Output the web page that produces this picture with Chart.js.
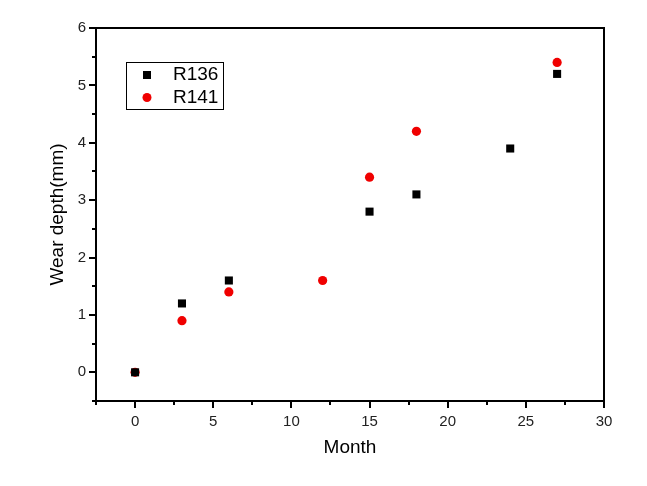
<!DOCTYPE html>
<html>
<head>
<meta charset="utf-8">
<script src="https://cdn.jsdelivr.net/npm/chart.js@4/dist/chart.umd.min.js"></script>
<style>
    html, body { margin: 0; padding: 0; background: white; }
    #wrap { width: 647px; height: 486px; }
</style>
</head>
<body>
<div id="wrap"><canvas id="chart1"></canvas></div>
<script>
var monthsR136 = [0, 3, 6, 15, 18, 24, 27];
var depthR136 = [0, 1.2, 1.6, 2.8, 3.1, 3.9, 5.2];
var monthsR141 = [0, 3, 6, 12, 15, 18, 27];
var depthR141 = [0, 0.9, 1.4, 1.6, 3.4, 4.2, 5.4];
var xTicks = [-2.5, 0, 2.5, 5, 7.5, 10, 12.5, 15, 17.5, 20, 22.5, 25, 27.5, 30];
var yTicks = [-0.5, 0, 0.5, 1, 1.5, 2, 2.5, 3, 3.5, 4, 4.5, 5, 5.5, 6];

function toPoints(xs, ys) {
    return xs.map(function (x, i) { return { x: x, y: ys[i] }; });
}

// frame, tick marks and the boxed legend
var framePlugin = {
    id: 'frame',
    afterDraw: function (chart) {
        var ctx = chart.ctx;
        var a = chart.chartArea;
        var xs = chart.scales.x, ys = chart.scales.y;
        ctx.save();
        ctx.strokeStyle = 'black';
        ctx.lineWidth = 2;
        ctx.strokeRect(a.left, a.top, a.right - a.left, a.bottom - a.top);
        ctx.beginPath();
        xTicks.forEach(function (v) {
            var px = Math.round(xs.getPixelForValue(v));
            var len = (v % 5 === 0) ? 7 : 4;
            ctx.moveTo(px, a.bottom);
            ctx.lineTo(px, a.bottom + len);
        });
        yTicks.forEach(function (v) {
            var py = Math.round(ys.getPixelForValue(v));
            var len = (v % 1 === 0) ? 7 : 4;
            ctx.moveTo(a.left, py);
            ctx.lineTo(a.left - len, py);
        });
        ctx.stroke();

        // legend
        ctx.lineWidth = 1;
        ctx.strokeRect(126.5, 62.5, 97, 47);
        ctx.font = '19px "Liberation Sans", Arial, sans-serif';
        ctx.textBaseline = 'middle';
        ctx.fillStyle = 'black';
        chart.data.datasets.forEach(function (ds, i) {
            var cy = 75 + i * 22.5;
            ctx.fillStyle = ds.backgroundColor;
            if (ds.pointStyle === 'rect') {
                ctx.fillRect(143, cy - 4, 8, 8);
            } else {
                ctx.beginPath();
                ctx.arc(147, cy, 4.5, 0, Math.PI * 2);
                ctx.fill();
            }
            ctx.fillStyle = 'black';
            ctx.fillText(ds.label, 173, cy);
        });
        ctx.restore();
    }
};

document.addEventListener("DOMContentLoaded", function () {
    var ctx = document.getElementById('chart1').getContext('2d');
    var scatter = new Chart(ctx, {
        type: 'scatter',
        data: {
            datasets: [{
                label: 'R136',
                data: toPoints(monthsR136, depthR136),
                pointStyle: 'rect',
                pointRadius: 5.7,
                pointHoverRadius: 5.7,
                backgroundColor: 'black',
                borderWidth: 0
            }, {
                label: 'R141',
                data: toPoints(monthsR141, depthR141),
                pointStyle: 'circle',
                pointRadius: 4.6,
                pointHoverRadius: 4.6,
                backgroundColor: '#f00000',
                borderWidth: 0
            }]
        },
        options: {
            responsive: true,
            maintainAspectRatio: false,
            animation: false,
            layout: {
                padding: { left: 0, top: 28, right: 43, bottom: 0 }
            },
            plugins: {
                legend: { display: false },
                tooltip: { enabled: false }
            },
            scales: {
                x: {
                    type: 'linear',
                    min: -2.5,
                    max: 30,
                    afterBuildTicks: function (scale) {
                        scale.ticks = xTicks.map(function (v) { return { value: v }; });
                    },
                    afterFit: function (scale) { scale.height = 85; },
                    ticks: {
                        color: '#222',
                        padding: 12,
                        maxRotation: 0,
                        autoSkip: false,
                        font: { family: '"Liberation Sans", Arial, sans-serif', size: 15 },
                        callback: function (v) { return v % 5 === 0 ? v : ''; }
                    },
                    grid: { display: false, drawTicks: false },
                    border: { display: false },
                    title: {
                        display: true,
                        text: 'Month',
                        color: 'black',
                        font: { family: '"Liberation Sans", Arial, sans-serif', size: 19 },
                        padding: { top: 0, bottom: 27 }
                    }
                },
                y: {
                    type: 'linear',
                    min: -0.5,
                    max: 6,
                    afterBuildTicks: function (scale) {
                        scale.ticks = yTicks.map(function (v) { return { value: v }; });
                    },
                    afterFit: function (scale) { scale.width = 96; },
                    ticks: {
                        color: '#222',
                        padding: 10,
                        autoSkip: false,
                        font: { family: '"Liberation Sans", Arial, sans-serif', size: 15 },
                        callback: function (v) { return v % 1 === 0 ? v : ''; }
                    },
                    grid: { display: false, drawTicks: false },
                    border: { display: false },
                    title: {
                        display: true,
                        text: 'Wear depth(mm)',
                        color: 'black',
                        font: { family: '"Liberation Sans", Arial, sans-serif', size: 19 },
                        padding: { top: 46, bottom: 0 }
                    }
                }
            }
        },
        plugins: [framePlugin]
    });
});
</script>
</body>
</html>
